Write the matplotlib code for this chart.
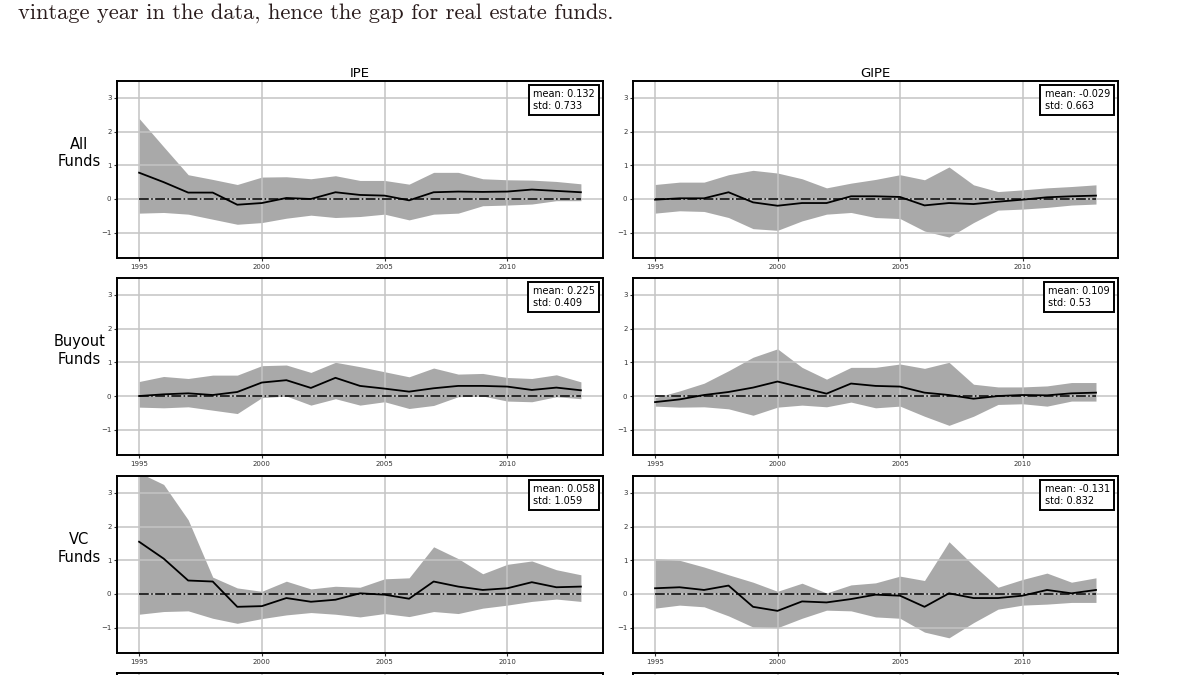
import numpy as np
import matplotlib.pyplot as plt
from matplotlib.offsetbox import AnchoredText

years = list(range(1995, 2014))

col_titles = ["IPE", "GIPE"]
row_labels = ["All\nFunds", "Buyout\nFunds", "VC\nFunds"]

# IPE, all funds
ipe_all_mean = [0.78, 0.50, 0.19, 0.19, -0.17, -0.12, 0.03, 0.00, 0.20, 0.12,
                0.10, -0.04, 0.20, 0.22, 0.21, 0.22, 0.28, 0.24, 0.20]
ipe_all_hi = [2.39, 1.55, 0.72, 0.58, 0.43, 0.65, 0.66, 0.60, 0.69, 0.55,
              0.55, 0.44, 0.79, 0.79, 0.60, 0.57, 0.56, 0.52, 0.45]
ipe_all_lo = [-0.42, -0.40, -0.45, -0.60, -0.75, -0.70, -0.57, -0.48, -0.55, -0.52,
              -0.45, -0.62, -0.45, -0.42, -0.20, -0.18, -0.15, -0.05, -0.05]

# GIPE, all funds
gipe_all_mean = [-0.02, 0.02, 0.02, 0.20, -0.10, -0.20, -0.12, -0.12, 0.08, 0.08,
                 0.06, -0.19, -0.12, -0.15, -0.08, -0.02, 0.05, 0.08, 0.10]
gipe_all_hi = [0.43, 0.50, 0.50, 0.72, 0.85, 0.77, 0.60, 0.33, 0.47, 0.58,
               0.72, 0.57, 0.95, 0.42, 0.22, 0.27, 0.33, 0.37, 0.42]
gipe_all_lo = [-0.42, -0.35, -0.37, -0.55, -0.88, -0.93, -0.65, -0.45, -0.40, -0.55,
               -0.58, -0.95, -1.13, -0.70, -0.33, -0.30, -0.25, -0.18, -0.15]

# IPE, buyout funds
ipe_bo_mean = [0.00, 0.05, 0.08, 0.03, 0.12, 0.40, 0.47, 0.24, 0.54, 0.30,
               0.22, 0.13, 0.23, 0.30, 0.30, 0.28, 0.18, 0.25, 0.17]
ipe_bo_hi = [0.43, 0.58, 0.52, 0.62, 0.62, 0.90, 0.92, 0.70, 1.00, 0.87,
             0.72, 0.57, 0.83, 0.65, 0.67, 0.55, 0.52, 0.63, 0.42]
ipe_bo_lo = [-0.33, -0.35, -0.32, -0.42, -0.52, -0.05, 0.00, -0.27, -0.08, -0.27,
             -0.17, -0.37, -0.28, -0.02, 0.00, -0.15, -0.17, -0.02, -0.08]

# GIPE, buyout funds
gipe_bo_mean = [-0.18, -0.10, 0.03, 0.12, 0.25, 0.43, 0.25, 0.07, 0.37, 0.30,
                0.28, 0.10, 0.03, -0.08, 0.00, 0.03, 0.02, 0.08, 0.10]
gipe_bo_hi = [-0.05, 0.15, 0.38, 0.75, 1.15, 1.40, 0.85, 0.50, 0.85, 0.85,
              0.95, 0.82, 1.00, 0.35, 0.27, 0.27, 0.30, 0.40, 0.40]
gipe_bo_lo = [-0.30, -0.33, -0.32, -0.38, -0.57, -0.33, -0.27, -0.32, -0.18, -0.35,
              -0.30, -0.60, -0.87, -0.60, -0.25, -0.23, -0.30, -0.15, -0.15]

# IPE, VC funds
ipe_vc_mean = [1.55, 1.05, 0.40, 0.37, -0.38, -0.36, -0.12, -0.23, -0.17, 0.02,
               -0.02, -0.14, 0.37, 0.22, 0.12, 0.17, 0.35, 0.20, 0.22]
ipe_vc_hi = [3.60, 3.25, 2.20, 0.50, 0.18, 0.08, 0.38, 0.15, 0.23, 0.20,
             0.45, 0.48, 1.40, 1.05, 0.60, 0.88, 0.98, 0.72, 0.57]
ipe_vc_lo = [-0.60, -0.52, -0.50, -0.72, -0.87, -0.73, -0.62, -0.55, -0.60, -0.68,
             -0.58, -0.67, -0.52, -0.58, -0.42, -0.33, -0.22, -0.15, -0.22]

# GIPE, VC funds
gipe_vc_mean = [0.17, 0.20, 0.12, 0.25, -0.38, -0.50, -0.22, -0.25, -0.15, -0.02,
                -0.05, -0.38, 0.02, -0.12, -0.12, -0.05, 0.12, 0.02, 0.12]
gipe_vc_hi = [1.05, 1.00, 0.80, 0.57, 0.35, 0.08, 0.32, 0.03, 0.27, 0.33,
              0.53, 0.40, 1.55, 0.85, 0.20, 0.43, 0.62, 0.35, 0.48]
gipe_vc_lo = [-0.42, -0.33, -0.38, -0.65, -0.98, -1.00, -0.72, -0.48, -0.50, -0.68,
              -0.72, -1.13, -1.30, -0.85, -0.45, -0.33, -0.30, -0.25, -0.25]

# summary stats printed in the boxes
stat_mean = [["0.132", "-0.029"], ["0.225", "0.109"], ["0.058", "-0.131"]]
stat_std = [["0.733", "0.663"], ["0.409", "0.53"], ["1.059", "0.832"]]

panels = [
    [(ipe_all_mean, ipe_all_lo, ipe_all_hi), (gipe_all_mean, gipe_all_lo, gipe_all_hi)],
    [(ipe_bo_mean, ipe_bo_lo, ipe_bo_hi), (gipe_bo_mean, gipe_bo_lo, gipe_bo_hi)],
    [(ipe_vc_mean, ipe_vc_lo, ipe_vc_hi), (gipe_vc_mean, gipe_vc_lo, gipe_vc_hi)],
]

fig = plt.figure(figsize=(12, 6.75), dpi=100)

# caption line of the page above the figure
fig.text(0.015, 0.972, "vintage year in the data, hence the gap for real estate funds.",
         family="cmr10", fontsize=16.2, color="#2a1c1c", va="baseline", ha="left",
         fontweight="bold")

col_left = [0.0975, 0.5275]
col_width = [0.405, 0.4042]
row_bottom = [0.6178, 0.3259, 0.0326]
row_height = 0.2622


def style_axes(ax):
    ax.set_xlim(1994.1, 2013.9)
    ax.set_ylim(-1.75, 3.5)
    ax.set_xticks([1995, 2000, 2005, 2010])
    ax.set_yticks([-1, 0, 1, 2, 3])
    ax.grid(True, color="#c4c4c4", linewidth=1.1)
    ax.tick_params(labelsize=5, length=2, width=0.8, pad=2, colors="#333333")
    for sp in ax.spines.values():
        sp.set_linewidth(1.4)
        sp.set_color("black")


for r in range(3):
    for c in range(2):
        ax = fig.add_axes([col_left[c], row_bottom[r], col_width[c], row_height])
        mean, lo, hi = panels[r][c]
        ax.fill_between(years, lo, hi, color="#a9a9a9", linewidth=0)
        ax.plot(years, np.zeros(len(years)), color="black", linestyle="-.", linewidth=1.1)
        ax.plot(years, mean, color="black", linewidth=1.3)
        style_axes(ax)
        box = AnchoredText("mean: %s\nstd: %s" % (stat_mean[r][c], stat_std[r][c]),
                           loc="upper right", prop=dict(size=7), pad=0.45, borderpad=0.4,
                           frameon=True)
        box.patch.set_edgecolor("black")
        box.patch.set_linewidth(1.4)
        ax.add_artist(box)
        if r == 0:
            ax.set_title(col_titles[c], fontsize=9.5, pad=3)
        if c == 0:
            ax.set_ylabel(row_labels[r], rotation=0, fontsize=10.5, ha="center",
                          va="bottom", multialignment="center")
            ax.yaxis.set_label_coords(-0.078, 0.5)

# next row of the figure (cut off by the page edge)
for c in range(2):
    ax = fig.add_axes([col_left[c], -0.25, col_width[c], 0.2525])
    style_axes(ax)
    ax.tick_params(labelbottom=False, labelleft=False)

fig.savefig("out.png", dpi=100)
